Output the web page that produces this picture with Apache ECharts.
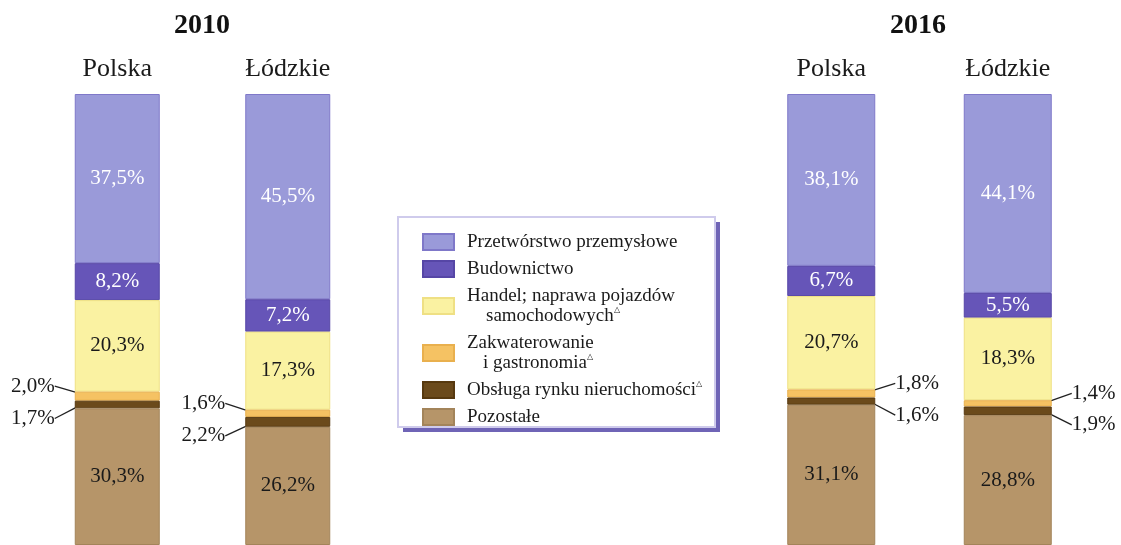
<!DOCTYPE html>
<html><head><meta charset="utf-8">
<script src="https://cdn.jsdelivr.net/npm/echarts@6/dist/echarts.min.js"></script>
<style>html,body{margin:0;padding:0;background:#fff}#c{width:1121px;height:545px}</style>
</head><body><div id="c"></div>
<script>
const years = ['2010', '2016'];
const categories = ['Polska', 'Łódzkie'];
const seriesNames = ['Przetwórstwo przemysłowe', 'Budownictwo', 'Handel; naprawa pojazdów samochodowych', 'Zakwaterowanie i gastronomia', 'Obsługa rynku nieruchomości', 'Pozostałe'];
const przetworstwo2010 = [37.5, 45.5];
const budownictwo2010 = [8.2, 7.2];
const handel2010 = [20.3, 17.3];
const zakwaterowanie2010 = [2.0, 1.6];
const obsluga2010 = [1.7, 2.2];
const pozostale2010 = [30.3, 26.2];
const przetworstwo2016 = [38.1, 44.1];
const budownictwo2016 = [6.7, 5.5];
const handel2016 = [20.7, 18.3];
const zakwaterowanie2016 = [1.8, 1.4];
const obsluga2016 = [1.6, 1.9];
const pozostale2016 = [31.1, 28.8];

const data2010 = [przetworstwo2010, budownictwo2010, handel2010, zakwaterowanie2010, obsluga2010, pozostale2010];
const data2016 = [przetworstwo2016, budownictwo2016, handel2016, zakwaterowanie2016, obsluga2016, pozostale2016];

const colors = ['#9a9ad9', '#6655b8', '#faf2a2', '#f5c263', '#6b4a1b', '#b69569'];
const borders = ['#7f78c9', '#5646a6', '#efe084', '#e9b04e', '#57390f', '#a3845a'];
const labelColors = ['#ffffff', '#ffffff', '#1a1a1a', '#1a1a1a', '#1a1a1a', '#1a1a1a'];
const FONT = '"Liberation Serif", "Times New Roman", serif';

const fmt = v => v.toFixed(1).replace('.', ',') + '%';

function makeSeries(data, gi) {
  return data.map((vals, i) => {
    const small = (i === 3 || i === 4);
    const s = {
      type: 'bar', name: seriesNames[i], stack: 'y' + gi,
      xAxisIndex: gi, yAxisIndex: gi,
      barWidth: gi === 0 ? 85 : 88,
      data: vals,
      itemStyle: { color: colors[i], borderColor: borders[i], borderWidth: 1 },
      label: {
        show: true,
        position: small ? (gi === 0 ? 'left' : 'right') : 'inside',
        distance: 20,
        color: labelColors[i],
        fontFamily: FONT, fontSize: 21,
        formatter: p => fmt(p.value)
      }
    };
    if (small) {
      s.labelLayout = { dy: i === 3 ? -10 : 14 };
      s.labelLine = { show: true, lineStyle: { color: '#222', width: 1.3 } };
    }
    return s;
  });
}

const legendText = {
  'Przetwórstwo przemysłowe': '{t|Przetwórstwo przemysłowe}',
  'Budownictwo': '{t|Budownictwo}',
  'Handel; naprawa pojazdów samochodowych': '{t|Handel; naprawa pojazdów}\n{i|samochodowych}{s|△}',
  'Zakwaterowanie i gastronomia': '{t|Zakwaterowanie}\n{j|i gastronomia}{s|△}',
  'Obsługa rynku nieruchomości': '{t|Obsługa rynku nieruchomości}{s|△}',
  'Pozostałe': '{t|Pozostałe}'
};

const chart = echarts.init(document.getElementById('c'));
chart.setOption({
  backgroundColor: '#ffffff',
  animation: false,
  grid: [
    { left: 32, width: 341, top: 94, height: 455 },
    { left: 743, width: 353, top: 94, height: 455 }
  ],
  xAxis: [0, 1].map(g => ({
    type: 'category', gridIndex: g, data: categories, position: 'top',
    axisLine: { show: false }, axisTick: { show: false },
    axisLabel: { fontFamily: FONT, fontSize: 26, color: '#1a1a1a', margin: 12 }
  })),
  yAxis: [0, 1].map(g => ({
    type: 'value', gridIndex: g, min: 0, max: 100, inverse: true, show: false
  })),
  legend: {
    orient: 'vertical', left: 422, top: 232, padding: 0,
    itemWidth: 31, itemHeight: 16, itemGap: 7,
    icon: 'rect',
    data: seriesNames,
    selectedMode: false,
    formatter: n => legendText[n],
    textStyle: {
      fontFamily: FONT, fontSize: 19, color: '#1a1a1a', lineHeight: 20,
      rich: {
        t: { fontFamily: FONT, fontSize: 19, color: '#1a1a1a', lineHeight: 20, padding: [0, 0, 0, 8] },
        i: { fontFamily: FONT, fontSize: 19, color: '#1a1a1a', lineHeight: 20, padding: [0, 0, 0, 27] },
        j: { fontFamily: FONT, fontSize: 19, color: '#1a1a1a', lineHeight: 20, padding: [0, 0, 0, 24] },
        s: { fontFamily: FONT, fontSize: 8, color: '#1a1a1a', lineHeight: 20, verticalAlign: 'top' }
      }
    }
  },
  graphic: [
    { type: 'rect', z: -10, shape: { x: 403, y: 222, width: 317, height: 210 }, style: { fill: '#6f64b6' } },
    { type: 'rect', z: -9, shape: { x: 398, y: 217, width: 317, height: 210 }, style: { fill: '#ffffff', stroke: '#cfcbec', lineWidth: 2 } },
    { type: 'text', x: 202, y: 26, style: { text: years[0], textAlign: 'center', textVerticalAlign: 'middle', font: 'bold 28px ' + FONT, fill: '#111' } },
    { type: 'text', x: 918, y: 26, style: { text: years[1], textAlign: 'center', textVerticalAlign: 'middle', font: 'bold 28px ' + FONT, fill: '#111' } }
  ],
  series: [...makeSeries(data2010, 0), ...makeSeries(data2016, 1)]
});
</script>
</body></html>
